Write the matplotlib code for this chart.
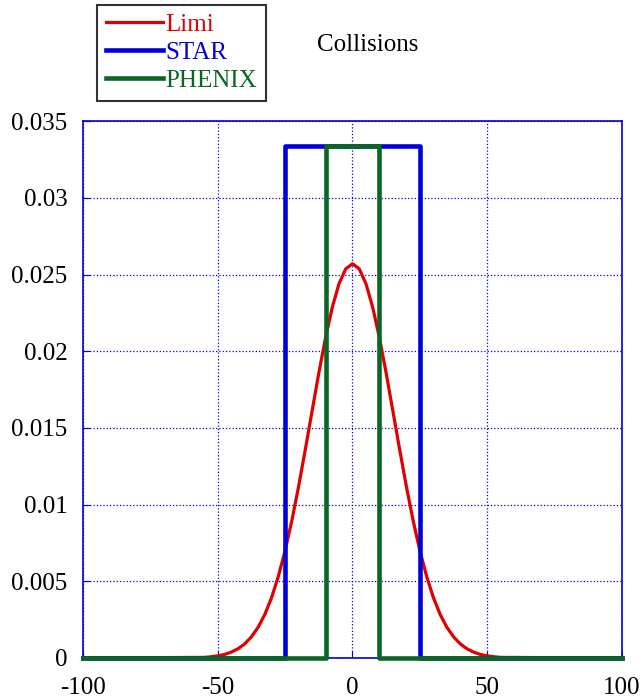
import matplotlib
matplotlib.use("Agg")
import matplotlib.pyplot as plt

plt.rcParams["font.family"] = ["Liberation Serif", "DejaVu Serif"]
plt.rcParams["axes.unicode_minus"] = False

# Limi curve
limi_x = [-100, -55, -52.5, -50, -47.5, -45, -42.5, -40, -37.5, -35, -32.5, -30,
          -27.5, -25, -22.5, -20, -17.5, -15, -12.5, -10, -7.5, -5, -2.5, 0,
          2.5, 5, 7.5, 10, 12.5, 15, 17.5, 20, 22.5, 25, 27.5, 30, 32.5, 35,
          37.5, 40, 42.5, 45, 47.5, 50, 52.5, 55, 100]
limi_y = [0, 0.00004, 0.00008, 0.00014, 0.00023, 0.00038, 0.0006, 0.00092,
          0.00138, 0.00201, 0.00285, 0.00395, 0.00533, 0.0070, 0.00896, 0.01118,
          0.01359, 0.01609, 0.01857, 0.02087, 0.02286, 0.0244, 0.02537, 0.0257,
          0.02537, 0.0244, 0.02286, 0.02087, 0.01857, 0.01609, 0.01359, 0.01118,
          0.00896, 0.0070, 0.00533, 0.00395, 0.00285, 0.00201, 0.00138, 0.00092,
          0.0006, 0.00038, 0.00023, 0.00014, 0.00008, 0.00004, 0]

# acceptance windows
star_x = [-100, -25, -25, 25, 25, 100]
star_y = [0, 0, 0.0334, 0.0334, 0, 0]
phenix_x = [-100, -10, -10, 10, 10, 100]
phenix_y = [0, 0, 0.0334, 0.0334, 0, 0]

xticks = [-100, -50, 0, 50, 100]
yticks = [0, 0.005, 0.01, 0.015, 0.02, 0.025, 0.03, 0.035]
ytick_labels = ["0", "0.005", "0.01", "0.015", "0.02", "0.025", "0.03", "0.035"]

fig = plt.figure(figsize=(6.42, 7.0), dpi=100)
ax = fig.add_axes([0.1293, 0.06, 0.8395, 0.767])

ax.plot(limi_x, limi_y, color="#e00000", lw=2.3, label="Limi", clip_on=False, zorder=3)
ax.plot(star_x, star_y, color="#0000dd", lw=3.3, label="STAR", clip_on=False, zorder=4)
ax.plot(phenix_x, phenix_y, color="#0b6623", lw=3.3, label="PHENIX", clip_on=False, zorder=5)

ax.set_xlim(-100, 100)
ax.set_ylim(0, 0.035)
ax.set_xticks(xticks)
ax.set_yticks(yticks)
ax.set_yticklabels(ytick_labels)
ax.tick_params(labelsize=18, direction="in", length=5, color="#0000dd")
ax.tick_params(axis="y", pad=11)
ax.tick_params(axis="x", pad=14)
ax.grid(True, color="#0000dd", linestyle=":", lw=0.9)
for s in ax.spines.values():
    s.set_color("#0000dd")
    s.set_linewidth(1.2)

fig.text(0.572, 0.936, "Collisions", fontsize=18, ha="center", va="center")

leg = fig.legend(loc="upper left", bbox_to_anchor=(0.151, 0.993), fontsize=18,
                 labelcolor="linecolor", fancybox=False, framealpha=1,
                 edgecolor="#333333", handlelength=2.3, handletextpad=0.1,
                 borderpad=0.35, labelspacing=0.22, borderaxespad=0)
leg.get_frame().set_linewidth(1.5)

fig.savefig("out.png", dpi=100)
